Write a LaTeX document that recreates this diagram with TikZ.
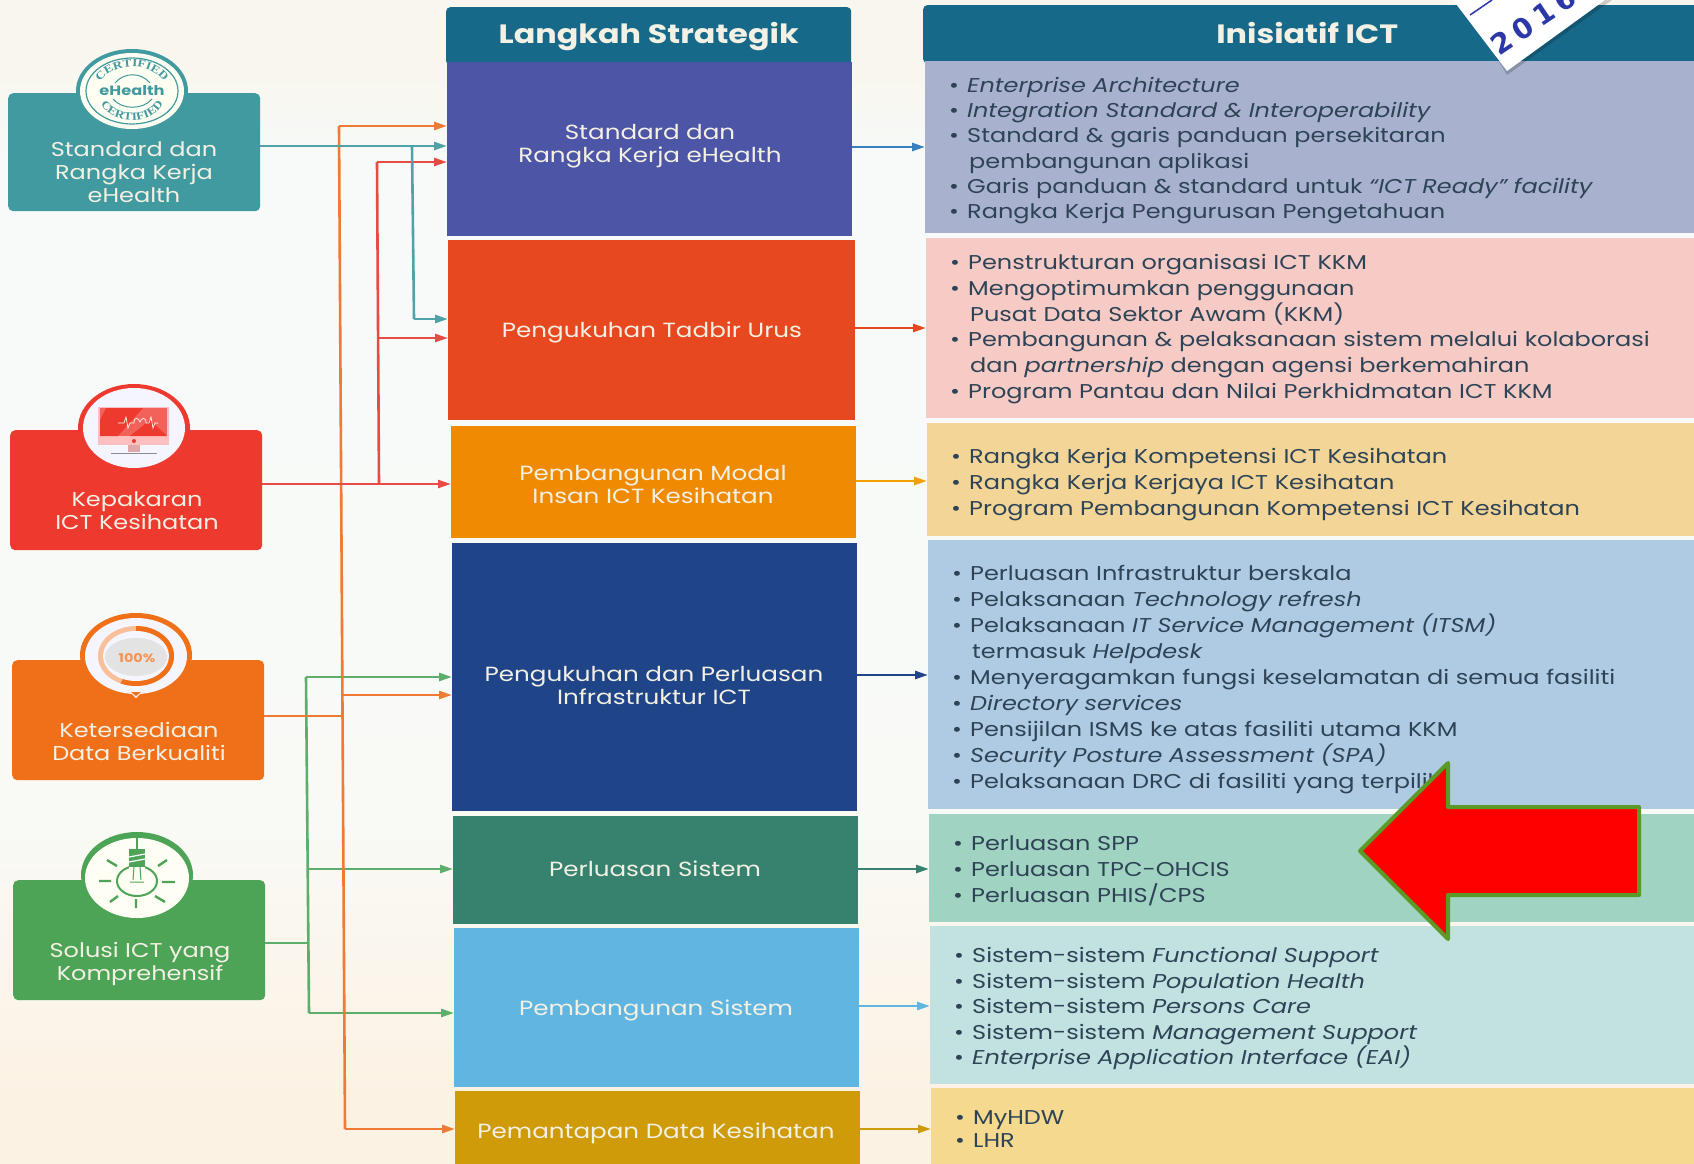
\documentclass[tikz,border=0pt]{standalone}
\usepackage{fontspec}
\setmainfont{Poppins}[FakeStretch=1.2]
\newfontfamily\stampfont[LetterSpace=21]{DejaVu Sans Bold}
\newfontfamily\sealfont[FakeStretch=1.2]{Liberation Serif Bold}
\usetikzlibrary{arrows.meta,decorations.text,shapes.geometric}

\definecolor{headblue}{HTML}{17698A}
\definecolor{tealsrc}{HTML}{419A9F}
\definecolor{redsrc}{HTML}{EE3A2E}
\definecolor{orangesrc}{HTML}{F0701A}
\definecolor{greensrc}{HTML}{4DA456}
\definecolor{tealline}{HTML}{4FA3A8}
\definecolor{redline}{HTML}{E84B44}
\definecolor{orangeline}{HTML}{EE7A35}
\definecolor{greenline}{HTML}{5DAE6C}
\definecolor{s1col}{HTML}{4C55A6}
\definecolor{s2col}{HTML}{E8481F}
\definecolor{s3col}{HTML}{F08A00}
\definecolor{s4col}{HTML}{1F4488}
\definecolor{s5col}{HTML}{37826F}
\definecolor{s6col}{HTML}{61B5E1}
\definecolor{s7col}{HTML}{CF9B08}
\definecolor{p1col}{HTML}{A8B1CE}
\definecolor{p2col}{HTML}{F6CBC6}
\definecolor{p3col}{HTML}{F3D697}
\definecolor{p4col}{HTML}{AFCBE4}
\definecolor{p5col}{HTML}{A0D3C2}
\definecolor{p6col}{HTML}{C2E1E1}
\definecolor{p7col}{HTML}{F4D98F}
\definecolor{paneltext}{HTML}{2E4456}
\definecolor{boxtext}{HTML}{F3F0E4}
\definecolor{stampblue}{HTML}{2C37A8}
\definecolor{arrowgreen}{HTML}{5C9A28}
\definecolor{pagetop}{HTML}{F8F6EE}
\definecolor{pagemid}{HTML}{F7FAF9}
\definecolor{pagelow}{HTML}{F9FAF6}
\definecolor{pagebot}{HTML}{FCF2E4}
\pgfdeclareverticalshading{pagewash}{100bp}{color(0bp)=(pagebot); color(28bp)=(pagebot); color(40bp)=(pagelow); color(60bp)=(pagemid); color(68bp)=(pagemid); color(72bp)=(pagetop); color(100bp)=(pagetop)}

\newcommand{\itm}{\makebox[18pt][l]{\textbullet}}
\newcommand{\cont}{\hspace*{20pt}}

\begin{document}
\begin{tikzpicture}[x=1pt,y=-1pt]
\tikzset{
	srcbox/.style = {anchor=north west, inner sep=0, minimum width=252pt, minimum height=120pt, rounded corners=5pt},
	srctext/.style = {align=center, text=boxtext, font=\fontsize{20}{23}\selectfont},
	strategi/.style = {anchor=north west, inner sep=0, minimum width=405pt},
	strattext/.style = {align=center, text=boxtext, font=\fontsize{20.5}{23}\selectfont},
	panel/.style = {anchor=north west, inner xsep=24pt, inner ysep=0, minimum width=790pt, text width=742pt, align=left, text=paneltext},
	panelshift/.style = {execute at begin node={\rule{0pt}{#1pt}}},
	header/.style = {anchor=north west, inner sep=0, rounded corners=4pt, fill=headblue, text=boxtext, font=\fontsize{26.5}{30}\bfseries\selectfont},
	link/.style = {line width=2.6pt},
	arrow/.style = {line width=2.6pt, -{Triangle[length=13pt,width=8pt]}}
}
\useasboundingbox (0,0) rectangle (1694,1164);
\clip (0,0) rectangle (1694,1164);
\fill [shading=pagewash] (0,0) rectangle (1694,1164);

% left column
\node (ehealth) [srcbox, fill=tealsrc, minimum height=118pt] at (8,93) {};
\node (kepakaran) [srcbox, fill=redsrc] at (10,430) {};
\node (ketersediaan) [srcbox, fill=orangesrc] at (12,660) {};
\node (solusi) [srcbox, fill=greensrc] at (13,880) {};

\node (ehealthtext) [srctext] at (134,172) {Standard dan\\Rangka Kerja\\eHealth};
\node (kepakarantext) [srctext] at (137,511) {Kepakaran\\ICT Kesihatan};
\node (ketersediaantext) [srctext] at (139,741) {Ketersediaan\\Data Berkualiti};
\node (solusitext) [srctext] at (140,964) {Solusi ICT yang\\Komprehensif};

% badge, ehealth
\fill [tealsrc] (132,91) ellipse [x radius=56pt, y radius=42pt];
\fill [white!95!yellow] (132,91) ellipse [x radius=52pt, y radius=38pt];
\draw [tealsrc, line width=1.2pt] (132,91) ellipse [x radius=46pt, y radius=33pt];
\draw [tealsrc, line width=1pt] (115,83) .. controls (124,72) and (141,72) .. (150,83);
\draw [tealsrc, line width=1pt] (113,99) .. controls (122,110) and (143,110) .. (152,99);
\path [postaction={decorate, decoration={text along path, text align=center, text color=tealsrc,
	text={|\sealfont\fontsize{11}{11}\selectfont|CERTIFIED}}}]
	(98,84) .. controls (112,61) and (152,61) .. (166,84);
\path [postaction={decorate, decoration={text along path, text align=center, text color=tealsrc,
	text={|\sealfont\fontsize{11}{11}\selectfont|CERTIFIED}}}]
	(102,106) .. controls (115,125) and (149,125) .. (162,106);
\node (sealname) [text=tealsrc, inner sep=0, font=\fontsize{13.5}{14}\bfseries\selectfont] at (132,91) {eHealth};

% badge, monitor
\fill [redsrc] (134,428) ellipse [x radius=56pt, y radius=44pt];
\fill [white!96!blue] (134,428) ellipse [x radius=51pt, y radius=40pt];
\fill [red!25!white] (98,407) rectangle (169,445);
\fill [redsrc!70!pink] (100,408) rectangle (167,436);
\fill [redsrc] (106,408) -- (143,408) -- (118,436) -- (100,436) -- (100,420) -- cycle;
\fill [redsrc] (150,420) -- (167,436) -- (130,436) -- cycle;
\fill [redsrc] (134,441) circle (2pt);
\fill [black!12!pink] (128,445) rectangle (140,452);
\draw [black!45, line width=1pt] (111,453) -- (157,453);
\draw [white!85!pink, line width=0.7pt] (118,423) -- (124,423) -- (126,417) -- (128,428) -- (130,423) -- (134,423)
	.. controls (134,416) and (139,418) .. (140,422) .. controls (141,418) and (146,416) .. (146,423)
	-- (149,423) -- (151,417) -- (153,428) -- (155,423) -- (158,423);

% badge, percent
\fill [orangesrc] (136,655) ellipse [x radius=56pt, y radius=42pt];
\fill [white!96!blue] (136,656) ellipse [x radius=51pt, y radius=38pt];
\fill [white!96!blue] (130,692) -- (142,692) -- (136,698) -- cycle;
\fill [orangesrc] (131,692) -- (141,692) -- (136,696) -- cycle;
\fill [orangesrc!45!white] (136,656) ellipse [x radius=38pt, y radius=30pt];
\begin{scope}
\clip (136,656) ellipse [x radius=38pt, y radius=30pt];
\fill [orangesrc] (136,656) -- (136,620) -- (190,620) -- (190,700) -- (120,700) -- (120,684) -- cycle;
\end{scope}
\fill [white!96!blue] (136,656) ellipse [x radius=33pt, y radius=25pt];
\fill [black!11] (136,657) ellipse [x radius=31pt, y radius=19pt];
\node (percent) [text=orangesrc!75!white, inner sep=0, font=\fontsize{12}{13}\bfseries\selectfont] at (137,658) {100\%};

% badge, lamp
\fill [greensrc] (137,875) ellipse [x radius=56pt, y radius=43pt];
\fill [white!96!yellow] (137,878) ellipse [x radius=52pt, y radius=40pt];
\draw [greensrc, line width=1.5pt] (137,838) -- (137,850);
\draw [greensrc, line width=2pt] (137,881) ellipse [x radius=20pt, y radius=15pt];
\fill [white!96!yellow] (129,866) rectangle (145,870);
\fill [greensrc] (129,849) rectangle (145,867);
\draw [white, line width=1.2pt] (129,857) -- (145,854) (129,862) -- (145,859);
\draw [greensrc, line width=1pt] (134,867) -- (133,880) (140,867) -- (141,880) (130,882) -- (144,882);
\draw [greensrc, line width=2.4pt]
	(99,881) -- (111,881) (162,882) -- (175,882)
	(107,860) -- (117,866) (158,866) -- (167,860)
	(110,902) -- (118,896) (155,896) -- (165,902)
	(136,899) -- (136,908);

% strategy column
\node (stratHead) [header, minimum width=405pt, minimum height=58pt] at (446,7) {\raisebox{2pt}{Langkah Strategik}};
\node (strat1) [strategi, fill=s1col, minimum height=174pt] at (447,62) {};
\node (strat2) [strategi, fill=s2col, minimum height=180pt, minimum width=407pt] at (448,240) {};
\node (strat3) [strategi, fill=s3col, minimum height=112pt] at (451,426) {};
\node (strat4) [strategi, fill=s4col, minimum height=268pt] at (452,543) {};
\node (strat5) [strategi, fill=s5col, minimum height=108pt] at (453,816) {};
\node (strat6) [strategi, fill=s6col, minimum height=159pt] at (454,928) {};
\node (strat7) [strategi, fill=s7col, minimum height=80pt] at (455,1091) {};

\node (strat1text) [strattext] at (650,146) {Standard dan\\Rangka Kerja eHealth};
\node (strat2text) [strattext] at (652,332) {Pengukuhan Tadbir Urus};
\node (strat3text) [strattext] at (653,485) {Pembangunan Modal\\Insan ICT Kesihatan};
\node (strat4text) [strattext] at (654,685) {Pengukuhan dan Perluasan\\Infrastruktur ICT};
\node (strat5text) [strattext] at (655,869) {Perluasan Sistem};
\node (strat6text) [strattext] at (656,1010) {Pembangunan Sistem};
\node (strat7text) [strattext] at (656,1133) {Pemantapan Data Kesihatan};

% ict column
\node (ictHead) [header, minimum width=790pt, minimum height=58pt] at (923,5) {\hspace*{-22pt}\raisebox{2pt}{Inisiatif ICT}};
\node (panel1) [panel, panelshift=22, fill=p1col, minimum height=172pt, font=\fontsize{20}{25.3}\selectfont] at (925,61) {
	\itm\textit{Enterprise Architecture}\\
	\itm\textit{Integration Standard \& Interoperability}\\
	\itm Standard \& garis panduan persekitaran\\
	\cont pembangunan aplikasi\\
	\itm Garis panduan \& standard untuk \textit{“ICT Ready” facility}\\
	\itm Rangka Kerja Pengurusan Pengetahuan};
\node (panel2) [panel, panelshift=17, fill=p2col, minimum height=180pt, font=\fontsize{20}{25.8}\selectfont] at (926,238) {
	\itm Penstrukturan organisasi ICT KKM\\
	\itm Mengoptimumkan penggunaan\\
	\cont Pusat Data Sektor Awam (KKM)\\
	\itm Pembangunan \& pelaksanaan sistem melalui kolaborasi\\
	\cont dan \textit{partnership} dengan agensi berkemahiran\\
	\itm Program Pantau dan Nilai Perkhidmatan ICT KKM};
\node (panel3) [panel, panelshift=24, fill=p3col, minimum height=113pt, font=\fontsize{20}{26}\selectfont] at (927,423) {
	\itm Rangka Kerja Kompetensi ICT Kesihatan\\
	\itm Rangka Kerja Kerjaya ICT Kesihatan\\
	\itm Program Pembangunan Kompetensi ICT Kesihatan};
\node (panel4) [panel, panelshift=24, fill=p4col, minimum height=269pt, font=\fontsize{20}{26}\selectfont] at (928,540) {
	\itm Perluasan Infrastruktur berskala\\
	\itm Pelaksanaan \textit{Technology refresh}\\
	\itm Pelaksanaan \textit{IT Service Management (ITSM)}\\
	\cont termasuk \textit{Helpdesk}\\
	\itm Menyeragamkan fungsi keselamatan di semua fasiliti\\
	\itm \textit{Directory services}\\
	\itm Pensijilan ISMS ke atas fasiliti utama KKM\\
	\itm \textit{Security Posture Assessment (SPA)}\\
	\itm Pelaksanaan DRC di fasiliti yang terpilih};
\node (panel5) [panel, panelshift=20, fill=p5col, minimum height=108pt, font=\fontsize{20}{26.4}\selectfont] at (929,814) {
	\itm Perluasan SPP\\
	\itm Perluasan TPC-OHCIS\\
	\itm Perluasan PHIS/CPS};
\node (panel6) [panel, panelshift=22, fill=p6col, minimum height=158pt, font=\fontsize{20}{25.4}\selectfont] at (930,926) {
	\itm Sistem-sistem \textit{Functional Support}\\
	\itm Sistem-sistem \textit{Population Health}\\
	\itm Sistem-sistem \textit{Persons Care}\\
	\itm Sistem-sistem \textit{Management Support}\\
	\itm \textit{Enterprise Application Interface (EAI)}};
\node (panel7) [panel, panelshift=17, fill=p7col, minimum height=78pt, font=\fontsize{20}{23}\selectfont] at (931,1088) {
	\itm MyHDW\\
	\itm LHR};

% connectors
\coordinate (gTop) at (306,677);
\coordinate (gMid) at (308,869);
\coordinate (gSrc) at (308,943);
\coordinate (gBot) at (309,1013);
\draw [link, greenline] (gTop) -- (gBot);
\draw [link, greenline] (solusi.east |- gSrc) -- (gSrc);
\draw [arrow, greenline] (gTop) -- (gTop -| strat4.west);
\draw [arrow, greenline] (gMid) -- (gMid -| strat5.west);
\draw [arrow, greenline] (gBot) -- (gBot -| strat6.west);

\coordinate (oTop) at (339,126);
\coordinate (oMid) at (343,695);
\coordinate (oSrc) at (343,716);
\coordinate (oBot) at (345,1129);
\draw [link, orangeline] (oTop) -- (oBot);
\draw [link, orangeline] (ketersediaan.east |- oSrc) -- (oSrc);
\draw [arrow, orangeline] (oTop) -- (oTop -| strat1.west);
\draw [arrow, orangeline] (oMid) -- (oMid -| strat4.west);
\draw [arrow, orangeline] (oBot) -- (oBot -| strat7.west);

\coordinate (rTop) at (377,162);
\coordinate (rMid) at (378,338);
\coordinate (rSrc) at (379,484);
\draw [link, redline] (rTop) -- (rSrc);
\draw [arrow, redline] (kepakaran.east |- rSrc) -- (rSrc -| strat3.west);
\draw [arrow, redline] (rTop) -- (rTop -| strat1.west);
\draw [arrow, redline] (rMid) -- (rMid -| strat2.west);

\coordinate (tSrc) at (412,146);
\coordinate (tBot) at (414,319);
\draw [link, tealline] (tSrc) -- (tBot);
\draw [arrow, tealline] (ehealth.east |- tSrc) -- (tSrc -| strat1.west);
\draw [arrow, tealline] (tBot) -- (tBot -| strat2.west);

\coordinate (out1) at (852,147);
\coordinate (out2) at (855,328);
\coordinate (out3) at (856,481);
\coordinate (out4) at (857,675);
\coordinate (out5) at (858,869);
\coordinate (out6) at (859,1006);
\coordinate (out7) at (859,1129);
\draw [arrow, s1col!75!cyan] (out1) -- (out1 -| panel1.west);
\draw [arrow, s2col] (out2) -- (out2 -| panel2.west);
\draw [arrow, s3col!80!yellow] (out3) -- (out3 -| panel3.west);
\draw [arrow, s4col] (out4) -- (out4 -| panel4.west);
\draw [arrow, s5col] (out5) -- (out5 -| panel5.west);
\draw [arrow, s6col] (out6) -- (out6 -| panel6.west);
\draw [arrow, s7col] (out7) -- (out7 -| panel7.west);

% stamp on the corner
\fill [black, opacity=0.18] (1462,0) -- (1507,75) -- (1612,0) -- cycle;
\fill [white] (1453,0) -- (1507,71) -- (1605,0) -- cycle;
\node (stampyear) [rotate=34, text=stampblue, inner sep=0, font=\stampfont\fontsize{28}{28}\selectfont] at (1533,21) {2016};
\draw [stampblue, line width=1.5pt] (1470,15) -- (1492,0);

% red pointer
\fill [red, draw=arrowgreen, line width=4pt, line join=round]
	(1360,851) -- (1448,763) -- (1448,807) -- (1639,807) -- (1639,895) -- (1448,895) -- (1448,939) -- cycle;
\end{tikzpicture}
\end{document}
